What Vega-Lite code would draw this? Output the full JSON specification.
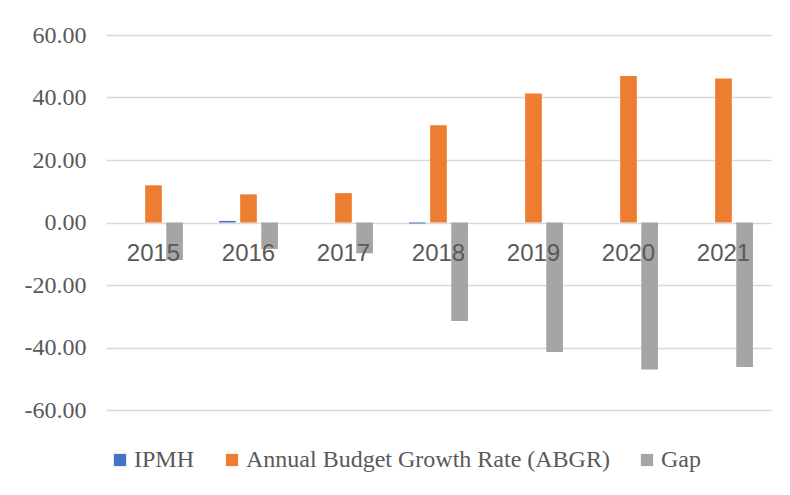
{
  "$schema": "https://vega.github.io/schema/vega-lite/v6.json",
  "width": 665,
  "height": 375,
  "autosize": {"type": "none"},
  "padding": {"left": 106, "top": 35, "right": 19, "bottom": 85},
  "background": "white",
  "data": {
    "values": [
      {"year": "2015", "series": "IPMH", "value": 0},
      {"year": "2015", "series": "Annual Budget Growth Rate (ABGR)", "value": 11.9},
      {"year": "2015", "series": "Gap", "value": -12.0},
      {"year": "2016", "series": "IPMH", "value": 0.5},
      {"year": "2016", "series": "Annual Budget Growth Rate (ABGR)", "value": 9.0},
      {"year": "2016", "series": "Gap", "value": -8.5},
      {"year": "2017", "series": "IPMH", "value": 0},
      {"year": "2017", "series": "Annual Budget Growth Rate (ABGR)", "value": 9.4},
      {"year": "2017", "series": "Gap", "value": -9.8},
      {"year": "2018", "series": "IPMH", "value": -0.3},
      {"year": "2018", "series": "Annual Budget Growth Rate (ABGR)", "value": 31.1},
      {"year": "2018", "series": "Gap", "value": -31.5},
      {"year": "2019", "series": "IPMH", "value": 0},
      {"year": "2019", "series": "Annual Budget Growth Rate (ABGR)", "value": 41.3},
      {"year": "2019", "series": "Gap", "value": -41.4},
      {"year": "2020", "series": "IPMH", "value": 0},
      {"year": "2020", "series": "Annual Budget Growth Rate (ABGR)", "value": 46.9},
      {"year": "2020", "series": "Gap", "value": -47.0},
      {"year": "2021", "series": "IPMH", "value": 0},
      {"year": "2021", "series": "Annual Budget Growth Rate (ABGR)", "value": 46.1},
      {"year": "2021", "series": "Gap", "value": -46.2}
    ]
  },
  "mark": {"type": "bar"},
  "encoding": {
    "x": {
      "field": "year",
      "type": "nominal",
      "scale": {"paddingInner": 0.38, "paddingOuter": 0.19},
      "axis": {
        "orient": "bottom",
        "offset": -187.5,
        "title": null,
        "domain": false,
        "ticks": false,
        "tickSize": 0,
        "labelPadding": 19,
        "labelAngle": 0,
        "labelFont": "Liberation Sans",
        "labelFontSize": 24,
        "labelColor": "#595959",
        "zindex": 1,
        "grid": false
      }
    },
    "xOffset": {
      "field": "series",
      "type": "nominal",
      "sort": ["IPMH", "Annual Budget Growth Rate (ABGR)", "Gap"],
      "scale": {"paddingInner": 0.21, "paddingOuter": 0}
    },
    "y": {
      "field": "value",
      "type": "quantitative",
      "scale": {"domain": [-60, 60], "nice": false, "zero": false},
      "axis": {
        "values": [-60, -40, -20, 0, 20, 40, 60],
        "format": ".2f",
        "title": null,
        "domain": false,
        "ticks": false,
        "tickSize": 0,
        "labelPadding": 20,
        "labelFont": "Liberation Serif",
        "labelFontSize": 24,
        "labelColor": "#595959",
        "gridColor": "#d9d9d9",
        "gridWidth": 1.5,
        "zindex": 0
      }
    },
    "color": {
      "field": "series",
      "type": "nominal",
      "scale": {
        "domain": ["IPMH", "Annual Budget Growth Rate (ABGR)", "Gap"],
        "range": ["#4472C4", "#ED7D31", "#A5A5A5"]
      },
      "legend": {
        "title": null,
        "orient": "none",
        "direction": "horizontal",
        "legendX": 2,
        "legendY": 413,
        "symbolType": "square",
        "symbolSize": 150,
        "symbolStrokeWidth": 0,
        "symbolOpacity": 1,
        "labelFont": "Liberation Serif",
        "labelFontSize": 24,
        "labelColor": "#595959",
        "labelLimit": 0,
        "columnPadding": 25,
        "labelOffset": 2,
        "padding": 0
      }
    }
  },
  "config": {
    "view": {"stroke": null},
    "locale": {
      "number": {"decimal": ".", "thousands": ",", "grouping": [3], "currency": ["$", ""], "minus": "-"}
    }
  }
}
